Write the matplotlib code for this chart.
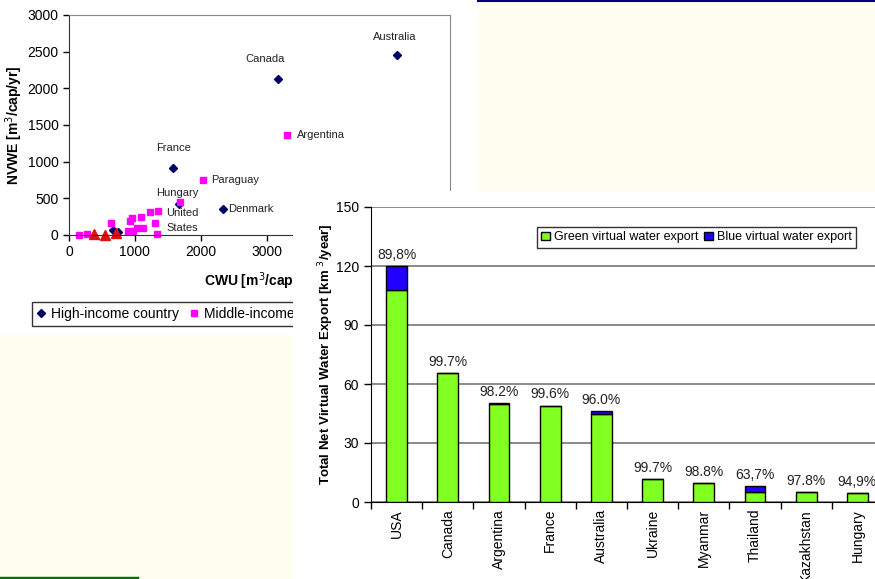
import matplotlib.pyplot as plt
from matplotlib.patches import Rectangle
from matplotlib.lines import Line2D

plt.rcParams['font.family'] = ['Liberation Sans', 'DejaVu Sans']

W, H = 875, 579

# scatter: virtual water export vs crop water use
high_x = [4980, 3170, 1580, 1670, 2330, 670, 740]
high_y = [2460, 2130, 910, 420, 350, 70, 45]
mid_x = [150, 280, 640, 890, 920, 960, 970, 1030, 1090, 1120, 1230, 1300, 1350, 1330, 1680, 2030, 3310]
mid_y = [5, 20, 160, 60, 190, 230, 50, 90, 240, 90, 310, 160, 330, 20, 450, 750, 1370]
low_x = [380, 550, 720]
low_y = [15, 0, 25]
names = ['Australia', 'Canada', 'Argentina', 'France', 'Paraguay', 'Hungary', 'United\nStates', 'Denmark']
name_x = [4980, 3170, 3310, 1580, 2030, 1680, 1670, 2330]
name_y = [2460, 2130, 1370, 910, 750, 450, 420, 350]
name_off = [(-2, 9), (-9, 11), (7, 0), (0, 11), (6, 0), (-2, 3), (2, -3), (4, 0)]
name_align = [('center', 'bottom'), ('center', 'bottom'), ('left', 'center'), ('center', 'bottom'),
              ('left', 'center'), ('center', 'bottom'), ('center', 'top'), ('left', 'center')]

# bar chart: total net virtual water export
countries = ['USA', 'Canada', 'Argentina', 'France', 'Australia', 'Ukraine', 'Myanmar', 'Thailand', 'Kazakhstan', 'Hungary']
green = [108.0, 65.4, 49.6, 48.8, 44.5, 11.7, 9.6, 5.1, 5.0, 4.37]
blue = [12.0, 0.2, 0.9, 0.2, 1.9, 0.04, 0.1, 2.9, 0.1, 0.23]
pct = ['89,8%', '99.7%', '98.2%', '99.6%', '96.0%', '99.7%', '98.8%', '63,7%', '97.8%', '94,9%']


def box(l, t, r, b):
    return [l / W, 1 - b / H, (r - l) / W, (b - t) / H]


fig = plt.figure(figsize=(W / 100, H / 100), dpi=100, facecolor='#FEFEF0')

# white page areas and decorations
fig.patches.append(Rectangle((0, 1 - 335 / H), 478 / W, 335 / H, transform=fig.transFigure,
                             facecolor='white', edgecolor='none', zorder=0.1))
fig.patches.append(Rectangle((293 / W, 0), (W - 293) / W, (579 - 191) / H, transform=fig.transFigure,
                             facecolor='white', edgecolor='none', zorder=0.3))
fig.lines.append(Line2D([478 / W, 1], [1 - 0.8 / H, 1 - 0.8 / H], transform=fig.transFigure,
                        color='#000080', lw=1.5, zorder=0.5))
fig.lines.append(Line2D([0, 137 / W], [1 - 577.5 / H, 1 - 577.5 / H], transform=fig.transFigure,
                        color='#0A6E0A', lw=2.5, zorder=0.5))

# scatter
ax1 = fig.add_axes(box(69, 15, 450, 235))
ax1.set_zorder(0.2)
ax1.set_facecolor('white')
ax1.plot(high_x, high_y, 'D', color='#000066', ms=4.5, label='High-income country', clip_on=False)
ax1.plot(mid_x, mid_y, 's', color='#FF00FF', ms=4, label='Middle-income country', clip_on=False)
ax1.plot(low_x, low_y, '^', color='#DD1111', ms=7, label='Low-income country', clip_on=False)
for n, x, y, off, al in zip(names, name_x, name_y, name_off, name_align):
    ax1.annotate(n, (x, y), xytext=off, textcoords='offset points', ha=al[0], va=al[1],
                 fontsize=8, color='#222222', linespacing=1.6)
ax1.set_xlim(0, 5780)
ax1.set_ylim(0, 3000)
ax1.set_xticks(range(0, 6000, 1000))
ax1.set_yticks(range(0, 3001, 500))
ax1.tick_params(labelsize=10, length=4, direction='out', width=1)
for s in ['top', 'right']:
    ax1.spines[s].set_color('#888888')
for s in ['left', 'bottom']:
    ax1.spines[s].set_color('#333333')
ax1.set_ylabel('NVWE [m$^3$/cap/yr]', fontsize=10, fontweight='bold')
ax1.yaxis.set_label_coords(-0.115, 0.5)
ax1.set_xlabel('CWU [m$^3$/cap/yr]', fontsize=10, fontweight='bold', labelpad=8)
leg1 = ax1.legend(loc='upper left', bbox_to_anchor=(32 / W, 1 - 302 / H), bbox_transform=fig.transFigure,
                  ncol=3, fontsize=10, frameon=True, fancybox=False, edgecolor='black', borderaxespad=0,
                  handlelength=0.6, handletextpad=0.4, columnspacing=0.8, borderpad=0.35)
leg1.get_frame().set_linewidth(1)

# bar chart
ax2 = fig.add_axes(box(371, 207, 883, 502))
ax2.set_zorder(0.4)
ax2.set_facecolor('white')
pos = range(len(countries))
totals = [g + b for g, b in zip(green, blue)]
ax2.bar(pos, green, width=0.41, color='#80FF20', edgecolor='black', lw=1, label='Green virtual water export', zorder=3)
ax2.bar(pos, blue, width=0.41, bottom=green, color='#2200FF', edgecolor='black', lw=1,
        label='Blue virtual water export', zorder=3)
for p, t, s in zip(pos, totals, pct):
    ax2.annotate(s, (p, t), xytext=(0, 3), textcoords='offset points', ha='center', va='bottom',
                 fontsize=10, color='#222222', annotation_clip=False)
ax2.set_xlim(-0.5, len(countries) - 0.5)
ax2.set_ylim(0, 150)
ax2.set_yticks(range(0, 151, 30))
ax2.set_xticks(list(pos))
ax2.set_xticklabels(countries, rotation=90)
ax2.set_xticks([p - 0.5 for p in pos] + [len(countries) - 0.5], minor=True)
ax2.tick_params(axis='x', which='major', length=0, pad=5, labelsize=10)
ax2.tick_params(axis='x', which='minor', length=5, direction='out', width=1)
ax2.tick_params(axis='y', length=5, direction='out', width=1, labelsize=10)
ax2.grid(axis='y', color='#808080', lw=1.3, zorder=1)
ax2.set_axisbelow(True)
for s in ['top', 'right']:
    ax2.spines[s].set_visible(False)
ax2.spines['left'].set_color('black')
ax2.spines['bottom'].set_color('black')
ax2.set_ylabel('Total Net Virtual Water Export [km $^{3}$/year]', fontsize=9.5, fontweight='bold')
ax2.yaxis.set_label_coords(-0.068, 0.5)
leg2 = ax2.legend(loc='upper right', bbox_to_anchor=(856 / W, 1 - 227 / H), bbox_transform=fig.transFigure,
                  ncol=2, fontsize=9, frameon=True, fancybox=False, edgecolor='black', borderaxespad=0,
                  handlelength=0.7, handleheight=0.7, handletextpad=0.3, columnspacing=0.5, borderpad=0.35)
leg2.get_frame().set_linewidth(1)

fig.savefig('out.png', dpi=100, facecolor=fig.get_facecolor())
